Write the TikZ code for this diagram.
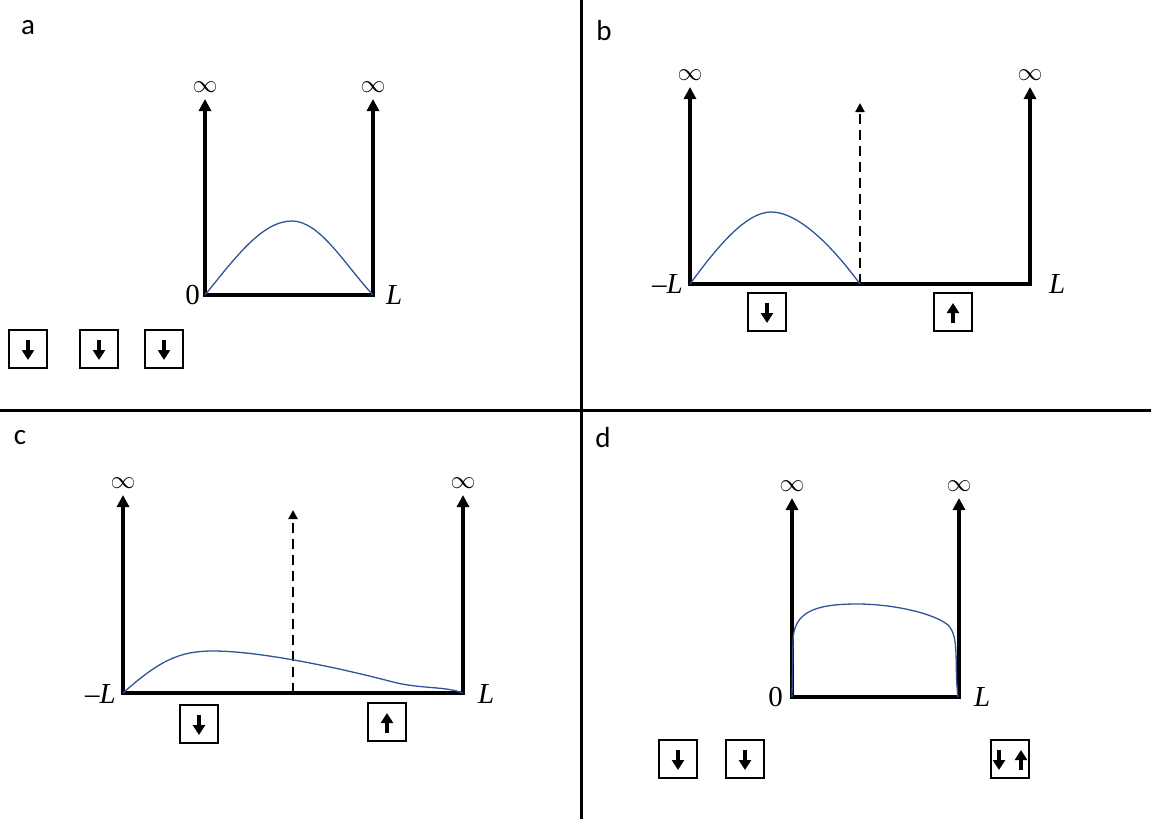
\documentclass[tikz,border=0pt]{standalone}
\usepackage{fontspec}
\newfontfamily\panelfont{Carlito}
\newfontfamily\labfont{Liberation Serif}
\usepackage{xcolor}
\usetikzlibrary{arrows.meta,positioning}
\definecolor{wavecol}{RGB}{47,85,151}

\begin{document}
\begin{tikzpicture}[
    x=1pt, y=-1pt,
    wall/.style={line width=4pt, -{Triangle[length=12pt,width=12pt]}},
    floor/.style={line width=4.5pt, line cap=rect},
    midline/.style={line width=2.5pt, dash pattern=on 10pt off 6pt, -{Triangle[length=9pt,width=9pt]}},
    wave/.style={line width=1.3pt, draw=wavecol},
    infl/.style={font=\fontsize{25}{28}\selectfont, inner sep=0pt},
    lab/.style={font=\labfont\fontsize{29}{32}\selectfont, inner sep=0pt},
    ttl/.style={font=\panelfont\fontsize{29}{32}\selectfont, anchor=base, inner sep=0pt},
    spinbox/.style={draw, line width=1.5pt, minimum size=38pt, inner sep=0pt},
    spin/.style={line width=3.5pt, -{Triangle[length=10pt,width=12pt]}},
    sep/.style={line width=3pt}
]
\useasboundingbox (0,0) rectangle (1151,819);

% separators between the four panels
\coordinate (hl) at (0,410);
\coordinate (hr) at (1151,410);
\coordinate (vt) at (581,0);
\coordinate (vb) at (581,819);
\draw[sep] (hl) -- (hr);
\draw[sep] (vt) -- (vb);

% Panel a - well from 0 to L
\node[ttl] (ta) at (28,34) {a};
\coordinate (aL0) at (205,295);
\coordinate (aR0) at (373,295);
\coordinate (aLt) at (205,99);
\coordinate (aRt) at (373,99);
\draw[wall] (aL0) -- (aLt);
\draw[wall] (aR0) -- (aRt);
\draw[floor] (aL0) -- (aR0);
\node[infl, above=6pt of aLt] (ainfl) {$\infty$};
\node[infl, above=6pt of aRt] (ainfr) {$\infty$};
\node[lab, anchor=east] (azero) at (200,295) {0};
\node[lab, anchor=west] (aend) at (386,295) {\textit{L}};
\draw[wave] (aL0) .. controls (235,258) and (262,221) .. (292,221)
                  .. controls (320,221) and (345,265) .. (aR0);
\foreach \n/\x in {1/28, 2/99, 3/164} {
  \node[spinbox] (as\n) at (\x,349) {};
  \draw[spin] ([yshift=9pt]as\n.center) -- ([yshift=-11pt]as\n.center);
}

% Panel b - well from -L to L, wave on the left half
\node[ttl] (tb) at (604,40) {b};
\coordinate (bL0) at (690,284);
\coordinate (bR0) at (1030,284);
\coordinate (bM0) at (860,284);
\coordinate (bLt) at (690,87);
\coordinate (bRt) at (1030,87);
\coordinate (bMt) at (860,103);
\draw[wall] (bL0) -- (bLt);
\draw[wall] (bR0) -- (bRt);
\draw[floor] (bL0) -- (bR0);
\draw[midline] (bM0) -- (bMt);
\node[infl, above=6pt of bLt] (binfl) {$\infty$};
\node[infl, above=6pt of bRt] (binfr) {$\infty$};
\node[lab, anchor=east] (bstart) at (683,284) {\textendash\textit{L}};
\node[lab, anchor=west] (bend) at (1049,284) {\textit{L}};
\draw[wave] (bL0) .. controls (715,250) and (745,212) .. (771,212)
                  .. controls (800,212) and (835,250) .. (bM0);
\node[spinbox] (bs1) at (767,312) {};
\node[spinbox] (bs2) at (953,312) {};
\draw[spin] ([yshift=9pt]bs1.center) -- ([yshift=-11pt]bs1.center);
\draw[spin] ([yshift=-11pt]bs2.center) -- ([yshift=9pt]bs2.center);

% Panel c - well from -L to L, wave spread over both halves
\node[ttl] (tc) at (20,444) {c};
\coordinate (cL0) at (123,693);
\coordinate (cR0) at (463,693);
\coordinate (cM0) at (293,693);
\coordinate (cLt) at (123,495);
\coordinate (cRt) at (463,495);
\coordinate (cMt) at (293,510);
\draw[wall] (cL0) -- (cLt);
\draw[wall] (cR0) -- (cRt);
\draw[floor] (cL0) -- (cR0);
\draw[midline] (cM0) -- (cMt);
\node[infl, above=6pt of cLt] (cinfl) {$\infty$};
\node[infl, above=6pt of cRt] (cinfr) {$\infty$};
\node[lab, anchor=east] (cstart) at (116,694) {\textendash\textit{L}};
\node[lab, anchor=west] (cend) at (478,694) {\textit{L}};
\draw[wave] (cL0) .. controls (160,660) and (180,651) .. (213,651)
                  .. controls (260,651) and (340,668) .. (393,682)
                  .. controls (420,689) and (445,686) .. (cR0);
\node[spinbox] (cs1) at (199,724) {};
\node[spinbox] (cs2) at (387,722) {};
\draw[spin] ([yshift=9pt]cs1.center) -- ([yshift=-11pt]cs1.center);
\draw[spin] ([yshift=-11pt]cs2.center) -- ([yshift=9pt]cs2.center);

% Panel d - well from 0 to L, flat wave
\node[ttl] (td) at (603,447) {d};
\coordinate (dL0) at (792,697);
\coordinate (dR0) at (959,697);
\coordinate (dLt) at (792,498);
\coordinate (dRt) at (959,498);
\draw[wall] (dL0) -- (dLt);
\draw[wall] (dR0) -- (dRt);
\draw[floor] (dL0) -- (dR0);
\node[infl, above=6pt of dLt] (dinfl) {$\infty$};
\node[infl, above=6pt of dRt] (dinfr) {$\infty$};
\node[lab, anchor=east] (dzero) at (783,697) {0};
\node[lab, anchor=west] (dend) at (974,697) {\textit{L}};
\draw[wave] (dL0) -- (793,640) .. controls (794,612) and (815,604) .. (857,604)
                  .. controls (895,604) and (935,614) .. (948,625)
                  .. controls (960,637) and (954,665) .. (958,697);
\node[spinbox] (ds1) at (678,759) {};
\node[spinbox] (ds2) at (745,759) {};
\node[spinbox] (ds3) at (1010,759) {};
\draw[spin] ([yshift=9pt]ds1.center) -- ([yshift=-11pt]ds1.center);
\draw[spin] ([yshift=9pt]ds2.center) -- ([yshift=-11pt]ds2.center);
\draw[spin] ([xshift=-11pt,yshift=9pt]ds3.center) -- ([xshift=-11pt,yshift=-11pt]ds3.center);
\draw[spin] ([xshift=11pt,yshift=-11pt]ds3.center) -- ([xshift=11pt,yshift=9pt]ds3.center);

\end{tikzpicture}
\end{document}
